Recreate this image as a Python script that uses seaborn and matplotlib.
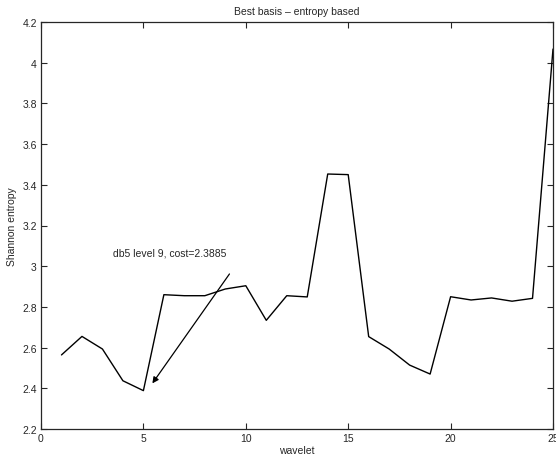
import pandas as pd
import matplotlib
matplotlib.use('Agg')
import matplotlib.pyplot as plt
import seaborn as sns

# значения по вейвлетам
wavelet = list(range(1, 26))
entropy = [2.564, 2.655, 2.593, 2.437, 2.3885, 2.86, 2.855, 2.855, 2.888, 2.904,
           2.734, 2.855, 2.849, 3.453, 3.45, 2.654, 2.593, 2.514, 2.47, 2.85,
           2.834, 2.844, 2.828, 2.842, 4.067]
y_ticks = [2.2, 2.4, 2.6, 2.8, 3.0, 3.2, 3.4, 3.6, 3.8, 4.0, 4.2]
y_labels = ['2.2', '2.4', '2.6', '2.8', '3', '3.2', '3.4', '3.6', '3.8', '4', '4.2']
x_ticks = [0, 5, 10, 15, 20, 25]

df = pd.DataFrame({'wavelet': wavelet, 'entropy': entropy})

sns.set_style('ticks')
plt.rcParams['font.family'] = ['Liberation Sans', 'DejaVu Sans']

fig = plt.figure(figsize=(5.56, 4.64), dpi=100)
ax = fig.add_axes([41 / 556, 1 - 430 / 464, 512 / 556, 407 / 464])
sns.lineplot(data=df, x='wavelet', y='entropy', color='black', linewidth=1.0, ax=ax)

ax.set_xlim(0, 25)
ax.set_ylim(2.2, 4.2)
ax.set_xticks(x_ticks)
ax.set_xticklabels([str(t) for t in x_ticks])
ax.set_yticks(y_ticks)
ax.set_yticklabels(y_labels)
ax.tick_params(direction='in', top=True, right=True, labelsize=7.5, length=4, width=0.8, pad=3)
for s in ax.spines.values():
    s.set_linewidth(0.9)
    s.set_visible(True)

ax.set_xlabel('wavelet', fontsize=7.5, labelpad=1)
ax.set_ylabel('Shannon entropy', fontsize=7.5, labelpad=4)
ax.set_title('Best basis \u2013 entropy based', fontsize=7.5, pad=6)

ax.annotate('', xy=(5.36, 2.413), xytext=(9.28, 2.973),
            arrowprops=dict(arrowstyle='-|>', color='black', lw=0.9, mutation_scale=9))
ax.text(3.5, 3.068, 'db5 level 9, cost=2.3885', fontsize=7.5, ha='left', va='center')

plt.savefig('out.png', dpi=100)
